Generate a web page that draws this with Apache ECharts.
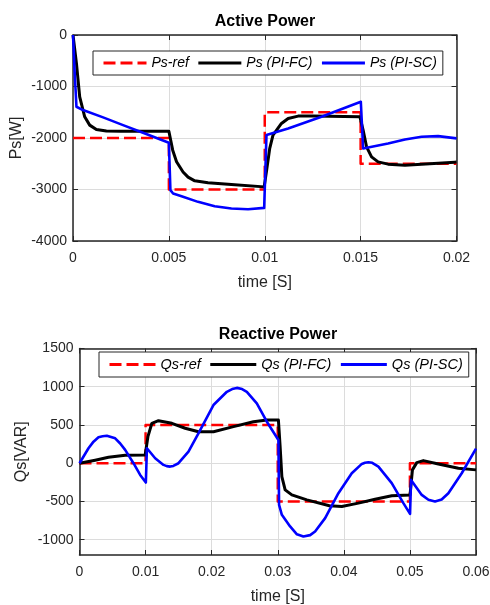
<!DOCTYPE html>
<html><head><meta charset="utf-8">
<script src="https://cdn.jsdelivr.net/npm/echarts@6/dist/echarts.min.js"></script>
<style>html,body{margin:0;padding:0;background:#fff}#c{width:490px;height:605px}</style>
</head><body><div id="c"></div>
<script>
// ---------- Active power (top) ----------
const psXTicks = { min: 0, max: 0.02, interval: 0.005 };
const psYTicks = { min: -4000, max: 0, interval: 1000 };
const psRefT = [0, 0.005, 0.01, 0.015, 0.02];
const psRef  = [-2000, -3000, -1500, -2500, -2500];
const psFcT = [0, 0.00018, 0.00035, 0.00061, 0.00087, 0.00122, 0.00174, 0.0025, 0.005, 0.0052, 0.0054, 0.00574, 0.006, 0.00635, 0.00704, 0.00826, 0.00997, 0.0101, 0.01026, 0.01043, 0.01087, 0.01122, 0.01174, 0.0125, 0.01496, 0.01513, 0.01531, 0.01557, 0.01591, 0.01643, 0.01731, 0.01818, 0.01991, 0.02];
const psFc  = [0, -550, -1200, -1588, -1750, -1834, -1866, -1870, -1870, -2236, -2460, -2660, -2760, -2832, -2871, -2903, -2949, -2624, -2200, -1944, -1717, -1620, -1575, -1575, -1585, -1847, -2171, -2366, -2463, -2508, -2527, -2508, -2470, -2468];
const psScT = [0, 0.00009, 0.00018, 0.00052, 0.00157, 0.00261, 0.00365, 0.005, 0.00508, 0.00522, 0.00566, 0.00652, 0.00739, 0.00826, 0.00913, 0.00997, 0.01009, 0.01014, 0.01122, 0.01296, 0.01501, 0.01513, 0.01522, 0.01643, 0.01731, 0.01818, 0.01904, 0.02];
const psSc  = [0, -745, -1393, -1458, -1600, -1750, -1899, -2093, -3013, -3078, -3130, -3240, -3324, -3370, -3383, -3357, -1944, -1911, -1814, -1588, -1297, -2203, -2236, -2106, -2028, -1977, -1963, -2008];

// ---------- Reactive power (bottom) ----------
const qsXTicks = { min: 0, max: 0.06, interval: 0.01 };
const qsYRange = { min: -1200, max: 1500 };
const qsYTickValues = [-1000, -500, 0, 500, 1000, 1500];
const qsRefT = [0, 0.01, 0.03, 0.05, 0.06];
const qsRef  = [0, 500, -500, 0, 0];
const qsFcT = [0, 0.00237, 0.00439, 0.00691, 0.00994, 0.01035, 0.01095, 0.01195, 0.01398, 0.01599, 0.018, 0.02027, 0.0233, 0.02632, 0.02835, 0.0301, 0.03036, 0.03062, 0.03112, 0.03213, 0.0344, 0.03782, 0.03969, 0.0422, 0.04473, 0.04725, 0.05002, 0.05038, 0.05104, 0.05203, 0.0543, 0.05733, 0.06];
const qsFc  = [0, 40, 78, 105, 108, 347, 522, 556, 522, 457, 412, 412, 478, 543, 565, 565, 217, -175, -348, -414, -479, -557, -566, -522, -470, -426, -414, -87, 8, 34, -9, -65, -87];
const qsScT = [0, 0.00136, 0.00212, 0.00287, 0.0035, 0.00414, 0.0054, 0.00616, 0.00691, 0.00817, 0.00918, 0.01004, 0.0102, 0.01145, 0.01271, 0.0132, 0.01372, 0.0142, 0.01498, 0.01649, 0.018, 0.02027, 0.0223, 0.0231, 0.02381, 0.0246, 0.02532, 0.02683, 0.02835, 0.0301, 0.0302, 0.03062, 0.03187, 0.0329, 0.03388, 0.0349, 0.03565, 0.03717, 0.03918, 0.0412, 0.04272, 0.0432, 0.04372, 0.0443, 0.04523, 0.04725, 0.04901, 0.05002, 0.05017, 0.05179, 0.0528, 0.0538, 0.0548, 0.05582, 0.05784, 0.06];
const qsSc  = [0, 196, 282, 339, 352, 360, 326, 258, 174, 0, -153, -253, 196, 65, -22, -38, -44, -35, 0, 151, 391, 761, 934, 970, 985, 970, 934, 783, 543, 304, -544, -675, -827, -930, -958, -940, -892, -718, -392, -131, -9, 6, 13, 5, -44, -261, -522, -662, -218, -414, -478, -501, -475, -392, -131, 190];

const FONT = '"Liberation Sans", Arial, sans-serif';
const AX = '#262626';
const pairs = (t, v) => t.map((x, i) => [x, v[i]]);
const plain = v => String(v);

function xAxes(grid, r, name) {
  return [{
    type: 'value', gridIndex: grid, min: r.min, max: r.max, interval: r.interval, position: 'bottom',
    name: name, nameLocation: 'middle', nameGap: 34, nameMoveOverlap: false,
    nameTextStyle: { fontFamily: FONT, fontSize: 16, color: AX },
    axisLine: { show: true, onZero: false, lineStyle: { color: AX, width: 1.5 } },
    axisTick: { show: true, inside: true, length: 5, lineStyle: { color: AX, width: 1 } },
    axisLabel: { fontFamily: FONT, fontSize: 14, color: AX, margin: 10, formatter: plain },
    splitLine: { show: true, lineStyle: { color: '#dcdcdc', width: 1 } }
  }, {
    type: 'value', gridIndex: grid, min: r.min, max: r.max, interval: r.interval, position: 'top',
    axisLine: { show: true, onZero: false, lineStyle: { color: AX, width: 1.5 } },
    axisTick: { show: true, inside: true, length: 5, lineStyle: { color: AX, width: 1 } },
    axisLabel: { show: false }, splitLine: { show: false }
  }];
}
function yAxes(grid, r, name, gap, custom) {
  const tick = { show: true, inside: true, length: 5, lineStyle: { color: AX, width: 1 } };
  const lab = { fontFamily: FONT, fontSize: 14, color: AX, margin: 6, formatter: plain };
  const tick2 = Object.assign({}, tick);
  if (custom) { tick.customValues = custom; lab.customValues = custom; tick2.customValues = custom; }
  return [{
    type: 'value', gridIndex: grid, min: r.min, max: r.max, interval: r.interval, position: 'left',
    name: name, nameLocation: 'middle', nameGap: gap, nameMoveOverlap: false,
    nameTextStyle: { fontFamily: FONT, fontSize: 16, color: AX },
    axisLine: { show: true, onZero: false, lineStyle: { color: AX, width: 1.5 } },
    axisTick: tick, axisLabel: lab,
    splitLine: { show: true, lineStyle: { color: '#dcdcdc', width: 1 } }
  }, {
    type: 'value', gridIndex: grid, min: r.min, max: r.max, interval: r.interval, position: 'right',
    axisLine: { show: true, onZero: false, lineStyle: { color: AX, width: 1.5 } },
    axisTick: tick2, axisLabel: { show: false }, splitLine: { show: false }
  }];
}
function ser(name, data, color, xi, yi, dashed, step) {
  const s = {
    type: 'line', name: name, data: data, xAxisIndex: xi, yAxisIndex: yi,
    symbol: 'none', animation: false, smooth: false,
    lineStyle: { color: color, width: dashed ? 2.5 : (color === '#000000' ? 3 : 2.6), type: dashed ? [12, 5] : 'solid', join: 'round' },
    itemStyle: { color: color }
  };
  if (step) s.step = 'end';
  return s;
}
function legend(names, left, top, w, fs) {
  return {
    data: names, left: left, top: top, orient: 'horizontal',
    itemWidth: w, itemHeight: 16, itemGap: 8,
    padding: [5, 6, 5, 9], backgroundColor: '#fff',
    borderColor: AX, borderWidth: 1, borderRadius: 0,
    lineStyle: { width: 3 },
    itemStyle: { opacity: 0 },
    textStyle: { fontFamily: FONT, fontSize: fs, fontStyle: 'italic', color: '#000' },
    selectedMode: false
  };
}

const chart = echarts.init(document.getElementById('c'), null, { renderer: 'canvas' });
chart.setOption({
  backgroundColor: '#fff',
  animation: false,
  title: [
    { text: 'Active Power', left: 265, top: 14, textAlign: 'center', padding: 0,
      textStyle: { fontFamily: FONT, fontSize: 16, fontWeight: 'bold', color: '#000' } },
    { text: 'Reactive Power', left: 278, top: 327, textAlign: 'center', padding: 0,
      textStyle: { fontFamily: FONT, fontSize: 16, fontWeight: 'bold', color: '#000' } }
  ],
  legend: [
    legend(['Ps-ref', 'Ps (PI-FC)', 'Ps (PI-SC)'], 93, 51, 43, 14),
    legend(['Qs-ref', 'Qs (PI-FC)', 'Qs (PI-SC)'], 99, 352, 46, 14.5)
  ],
  grid: [
    { left: 73, top: 35, width: 383.5, height: 206, containLabel: false, outerBoundsMode: 'none' },
    { left: 79.5, top: 348.5, width: 396.5, height: 206.5, containLabel: false, outerBoundsMode: 'none' }
  ],
  xAxis: [].concat(xAxes(0, psXTicks, 'time [S]'), xAxes(1, qsXTicks, 'time [S]')),
  yAxis: [].concat(yAxes(0, psYTicks, 'Ps[W]', 48), yAxes(1, qsYRange, 'Qs[VAR]', 50, qsYTickValues)),
  series: [
    ser('Ps-ref', pairs(psRefT, psRef), '#ff0000', 0, 0, true, true),
    ser('Ps (PI-FC)', pairs(psFcT, psFc), '#000000', 0, 0, false, false),
    ser('Ps (PI-SC)', pairs(psScT, psSc), '#0000ff', 0, 0, false, false),
    ser('Qs-ref', pairs(qsRefT, qsRef), '#ff0000', 2, 2, true, true),
    ser('Qs (PI-FC)', pairs(qsFcT, qsFc), '#000000', 2, 2, false, false),
    ser('Qs (PI-SC)', pairs(qsScT, qsSc), '#0000ff', 2, 2, false, false)
  ]
});
</script></body></html>
